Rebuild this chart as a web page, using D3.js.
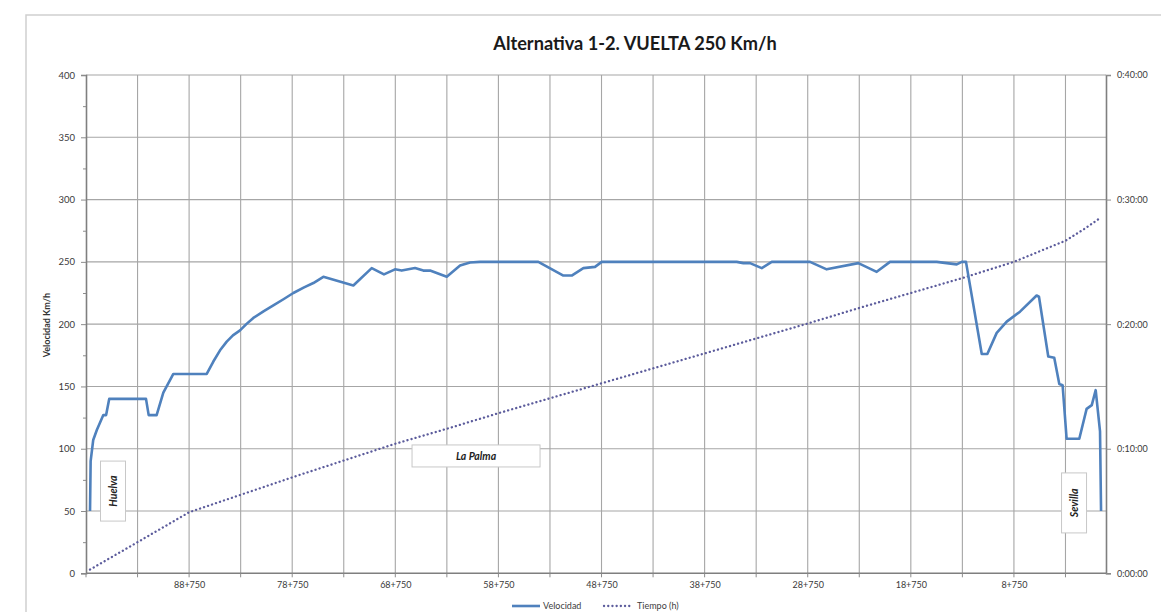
<!DOCTYPE html>
<html>
<head>
<meta charset="utf-8">
<script src="https://cdn.jsdelivr.net/npm/d3@7"></script>
<style>
  html, body { margin: 0; padding: 0; background: #ffffff; }
  svg { display: block; font-family: Lato, "Open Sans", sans-serif; }
</style>
</head>
<body>
<svg id="chart" width="1161" height="612"></svg>
<script>
// ---- Data ----
const velKm = [98.36, 98.3, 98.05, 97.7, 97.07, 96.8, 96.5, 92.93, 92.67, 91.9, 91.25, 90.28, 87.04,
  86.4, 85.75, 85.1, 84.5, 83.81, 83.2, 82.52, 81.5, 80.58, 79.6, 78.64, 77.6, 76.7, 75.73, 72.82, 71.04, 69.85, 68.78, 68.13, 66.84, 66.03,
  65.38, 63.76, 62.47, 61.5, 60.53, 54.88, 52.45, 51.64, 50.51, 49.38, 48.73, 35.64, 34.99, 34.35,
  33.21, 32.24, 28.53, 26.91, 23.84, 22.06, 20.77, 16.24, 14.3, 13.81, 13.4, 11.87, 11.33, 10.42,
  9.45, 8.16, 6.55, 6.32, 5.42, 4.84, 4.35, 4.03, 3.64, 2.41, 1.7, 1.2, 0.82, 0.4, 0.3];
const velocidad = [50, 90, 107, 115, 127, 127, 140, 140, 127, 127, 145, 160, 160,
  170, 179, 186, 191, 195, 200, 205, 210.5, 215, 220, 225, 229.5, 233, 238, 231, 245, 240, 244, 243, 245, 243,
  243, 238, 247, 249.5, 250, 250, 239, 239, 245, 246, 250, 250, 249, 249,
  245, 250, 250, 244, 249, 242, 250, 250, 248, 250, 250, 176, 176, 193,
  202, 210, 223, 222, 174, 173, 152, 151, 108, 108, 132, 135, 147, 114, 50];

const timeKm = [98.36, 93.75, 88.75, 83.75, 78.75, 73.75, 68.75, 63.75, 58.75, 53.75, 48.75,
  43.75, 38.75, 33.75, 28.75, 23.75, 18.75, 13.75, 8.75, 3.75, 2.0, 0.6];
const tiempoMin = [0.3, 2.5, 4.9, 6.3, 7.7, 9.05, 10.4, 11.6, 12.85, 14.05, 15.25,
  16.45, 17.65, 18.85, 20.05, 21.3, 22.5, 23.7, 25.0, 26.7, 27.6, 28.4];

const gridKm = [98.75, 93.75, 88.75, 83.75, 78.75, 73.75, 68.75, 63.75, 58.75, 53.75, 48.75,
  43.75, 38.75, 33.75, 28.75, 23.75, 18.75, 13.75, 8.75, 3.75];
const xLabelKm = [88.75, 78.75, 68.75, 58.75, 48.75, 38.75, 28.75, 18.75, 8.75];
const xLabels = ["88+750", "78+750", "68+750", "58+750", "48+750", "38+750", "28+750", "18+750", "8+750"];
const yTicks = [0, 50, 100, 150, 200, 250, 300, 350, 400];
const yMinor = [25, 75, 125, 175, 225, 275, 325, 375];
const rTicks = [0, 10, 20, 30, 40];
const rLabels = ["0:00:00", "0:10:00", "0:20:00", "0:30:00", "0:40:00"];

const title = "Alternativa 1-2. VUELTA 250 Km/h";
const yTitle = "Velocidad Km/h";
const seriesNames = ["Velocidad", "Tiempo (h)"];
const stations = [
  { name: "Huelva", km: 96.13, v: 66, vertical: true },
  { name: "La Palma", km: 60.92, v: 94.2, vertical: false },
  { name: "Sevilla", km: 2.92, v: 56.5, vertical: true }
];

// ---- Layout ----
const svg = d3.select("#chart");
const X0 = 86, X1 = 1106, Y0 = 573.3, Y1 = 75;
const x = d3.scaleLinear().domain([98.75, -0.18]).range([X0, X1]);
const y = d3.scaleLinear().domain([0, 400]).range([Y0, Y1]);
const yr = d3.scaleLinear().domain([0, 40]).range([Y0, Y1]);

const blue = "#4f81bd";
const dotCol = "#5c5c9c";

// outer chart border
svg.append("rect").attr("x", 26).attr("y", 15).attr("width", 1160).attr("height", 620)
  .attr("fill", "#fff").attr("stroke", "#cfcfcf").attr("stroke-width", 1.5);

// title
svg.append("text").attr("x", 635).attr("y", 50).attr("text-anchor", "middle")
  .attr("font-size", 18.2).attr("font-weight", "bold").attr("fill", "#1a1a1a").text(title);

// gridlines
const grid = svg.append("g");
grid.selectAll("line.h").data(yTicks.filter(d => d > 0)).join("line")
  .attr("x1", X0).attr("x2", X1).attr("y1", d => y(d)).attr("y2", d => y(d))
  .attr("stroke", "#a6a6a6").attr("stroke-width", 1.1);
grid.selectAll("line.v").data(gridKm.slice(1)).join("line")
  .attr("x1", d => x(d)).attr("x2", d => x(d)).attr("y1", Y1).attr("y2", Y0)
  .attr("stroke", "#a6a6a6").attr("stroke-width", 1.1);

// axes
const axL = svg.append("g").attr("transform", `translate(${X0},0)`)
  .call(d3.axisLeft(y).tickValues(yTicks).tickSize(5).tickPadding(6));
const axLm = svg.append("g").attr("transform", `translate(${X0},0)`)
  .call(d3.axisLeft(y).tickValues(yMinor).tickSize(3).tickFormat(""));
const axR = svg.append("g").attr("transform", `translate(${X1},0)`)
  .call(d3.axisRight(yr).tickValues(rTicks).tickFormat((d, i) => rLabels[i]).tickSize(5).tickPadding(6));
const axB = svg.append("g").attr("transform", `translate(0,${Y0})`)
  .call(d3.axisBottom(x).tickValues(xLabelKm).tickFormat((d, i) => xLabels[i]).tickSize(0).tickPadding(8));
[axL, axLm, axR, axB].forEach(g => {
  g.select(".domain").attr("stroke", "#7f7f7f").attr("stroke-width", 1.6);
  g.selectAll(".tick line").attr("stroke", "#8c8c8c");
  g.selectAll("text").attr("font-size", 9).attr("fill", "#3a3a3a").attr("font-family", "Lato, sans-serif");
});
axL.selectAll(".tick text").attr("font-size", 9.5);
axLm.select(".domain").remove();
axB.select(".domain").attr("d", `M${X0},0H${X1}`);
// bottom tick marks at each grid line
svg.append("g").selectAll("line").data(gridKm).join("line")
  .attr("x1", d => x(d)).attr("x2", d => x(d)).attr("y1", Y0).attr("y2", Y0 + 4)
  .attr("stroke", "#8c8c8c");

// y axis title
svg.append("text").attr("transform", `translate(50,${(Y0 + Y1) / 2 + 1}) rotate(-90)`)
  .attr("text-anchor", "middle").attr("font-size", 9).attr("font-weight", "bold")
  .attr("fill", "#333").text(yTitle);

// Tiempo (dotted)
const tLine = d3.line().x((d, i) => x(timeKm[i])).y(d => yr(d));
svg.append("path").attr("d", tLine(tiempoMin)).attr("fill", "none")
  .attr("stroke", dotCol).attr("stroke-width", 2.3)
  .attr("stroke-dasharray", "0.1,4.1").attr("stroke-linecap", "round");

// Velocidad
const vLine = d3.line().x((d, i) => x(velKm[i])).y(d => y(d));
svg.append("path").attr("d", vLine(velocidad)).attr("fill", "none")
  .attr("stroke", blue).attr("stroke-width", 2.6).attr("stroke-linejoin", "round");

// station labels
stations.forEach(s => {
  const cx = x(s.km), cy = y(s.v);
  const g = svg.append("g").attr("transform", `translate(${cx},${cy})`);
  const w = s.vertical ? 25 : 128, h = s.vertical ? 60 : 22;
  g.append("rect").attr("x", -w / 2).attr("y", -h / 2).attr("width", w).attr("height", h)
    .attr("fill", "#fff").attr("stroke", "#c8c8c8").attr("stroke-width", 1);
  g.append("text").attr("transform", s.vertical ? "rotate(-90)" : null)
    .attr("text-anchor", "middle").attr("dy", "0.35em")
    .attr("font-size", 10.5).attr("font-weight", "bold").attr("font-style", "italic")
    .attr("fill", "#222").text(s.name);
});

// legend
const lg = svg.append("g").attr("transform", "translate(0,606)");
lg.append("line").attr("x1", 512).attr("x2", 540).attr("y1", 0).attr("y2", 0)
  .attr("stroke", blue).attr("stroke-width", 2.6);
lg.append("text").attr("x", 543).attr("y", 0).attr("dy", "0.35em").attr("font-size", 9)
  .attr("fill", "#404040").text(seriesNames[0]);
lg.append("line").attr("x1", 604).attr("x2", 633).attr("y1", 0).attr("y2", 0)
  .attr("stroke", dotCol).attr("stroke-width", 2.3)
  .attr("stroke-dasharray", "0.1,4.1").attr("stroke-linecap", "round");
lg.append("text").attr("x", 637).attr("y", 0).attr("dy", "0.35em").attr("font-size", 9)
  .attr("fill", "#404040").text(seriesNames[1]);
</script>
</body>
</html>
